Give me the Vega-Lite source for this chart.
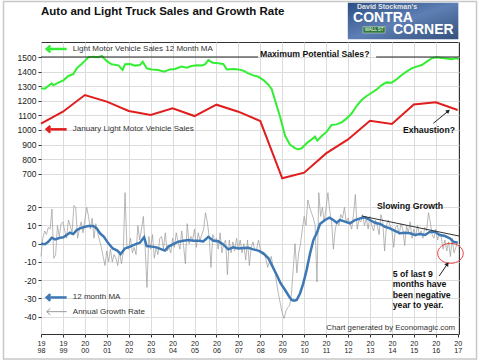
{
"$schema":"https://vega.github.io/schema/vega-lite/v6.json",
"width":418,"height":292,
"autosize":{"type":"none"},
"padding":{"left":41,"top":42,"right":21,"bottom":28},
"background":"white",
"config":{"font":"Liberation Sans","view":{"stroke":"#333","strokeWidth":1},"axis":{"labelOverlap":false,"labelSeparation":-200}},
"datasets":{
"green":[{"year":1998.0,"val":1285},{"year":1998.18,"val":1283},{"year":1998.33,"val":1301},{"year":1998.49,"val":1319},{"year":1998.56,"val":1306},{"year":1998.79,"val":1324},{"year":1999.02,"val":1340},{"year":1999.25,"val":1370},{"year":1999.47,"val":1383},{"year":1999.63,"val":1422},{"year":1999.85,"val":1452},{"year":2000.01,"val":1475},{"year":2000.16,"val":1498},{"year":2000.39,"val":1502},{"year":2000.61,"val":1498},{"year":2000.77,"val":1507},{"year":2000.99,"val":1473},{"year":2001.22,"val":1450},{"year":2001.53,"val":1443},{"year":2001.72,"val":1411},{"year":2001.83,"val":1450},{"year":2002.06,"val":1452},{"year":2002.29,"val":1441},{"year":2002.51,"val":1445},{"year":2002.64,"val":1468},{"year":2002.82,"val":1422},{"year":2003.05,"val":1415},{"year":2003.35,"val":1411},{"year":2003.61,"val":1400},{"year":2003.88,"val":1415},{"year":2004.11,"val":1418},{"year":2004.41,"val":1434},{"year":2004.64,"val":1427},{"year":2004.87,"val":1438},{"year":2005.1,"val":1443},{"year":2005.33,"val":1441},{"year":2005.48,"val":1450},{"year":2005.63,"val":1479},{"year":2005.83,"val":1461},{"year":2006.09,"val":1457},{"year":2006.31,"val":1452},{"year":2006.47,"val":1415},{"year":2006.77,"val":1418},{"year":2007.0,"val":1415},{"year":2007.23,"val":1406},{"year":2007.45,"val":1388},{"year":2007.68,"val":1374},{"year":2007.91,"val":1365},{"year":2008.14,"val":1342},{"year":2008.37,"val":1310},{"year":2008.52,"val":1280},{"year":2008.72,"val":1180},{"year":2008.9,"val":1090},{"year":2009.13,"val":960},{"year":2009.35,"val":900},{"year":2009.58,"val":875},{"year":2009.73,"val":867},{"year":2009.89,"val":874},{"year":2010.11,"val":908},{"year":2010.34,"val":935},{"year":2010.49,"val":954},{"year":2010.6,"val":926},{"year":2010.8,"val":958},{"year":2011.03,"val":988},{"year":2011.25,"val":1034},{"year":2011.48,"val":1038},{"year":2011.71,"val":1052},{"year":2011.94,"val":1079},{"year":2012.17,"val":1114},{"year":2012.39,"val":1164},{"year":2012.62,"val":1205},{"year":2012.85,"val":1233},{"year":2013.08,"val":1255},{"year":2013.31,"val":1278},{"year":2013.53,"val":1308},{"year":2013.76,"val":1326},{"year":2013.99,"val":1324},{"year":2014.22,"val":1347},{"year":2014.45,"val":1377},{"year":2014.67,"val":1400},{"year":2014.9,"val":1422},{"year":2015.13,"val":1434},{"year":2015.36,"val":1445},{"year":2015.59,"val":1468},{"year":2015.81,"val":1491},{"year":2016.04,"val":1498},{"year":2016.27,"val":1493},{"year":2016.5,"val":1489},{"year":2016.73,"val":1484},{"year":2016.88,"val":1491},{"year":2017.04,"val":1486}],
"red":[{"year":1998,"val":1043},{"year":1999,"val":1125},{"year":2000,"val":1239},{"year":2001,"val":1194},{"year":2002,"val":1130},{"year":2003,"val":1102},{"year":2004,"val":1148},{"year":2005,"val":1095},{"year":2006,"val":1173},{"year":2007,"val":1125},{"year":2008,"val":1061},{"year":2009,"val":668},{"year":2010,"val":707},{"year":2011,"val":839},{"year":2012,"val":935},{"year":2013,"val":1063},{"year":2014,"val":1041},{"year":2015,"val":1175},{"year":2016,"val":1189},{"year":2017,"val":1137}],
"blue":[{"year":1998.0,"val":0},{"year":1998.18,"val":-0.3},{"year":1998.33,"val":1},{"year":1998.49,"val":3.3},{"year":1998.64,"val":2.4},{"year":1998.87,"val":3.3},{"year":1999.02,"val":3.5},{"year":1999.17,"val":4.8},{"year":1999.32,"val":6},{"year":1999.47,"val":5.3},{"year":1999.63,"val":7.5},{"year":1999.78,"val":8.4},{"year":2000.01,"val":9.3},{"year":2000.16,"val":9.7},{"year":2000.39,"val":9.7},{"year":2000.54,"val":8.4},{"year":2000.69,"val":5.7},{"year":2000.87,"val":3.8},{"year":2001.07,"val":0.2},{"year":2001.27,"val":-2.6},{"year":2001.48,"val":-3.8},{"year":2001.63,"val":-5.7},{"year":2001.83,"val":-2.6},{"year":2002.06,"val":-1.6},{"year":2002.29,"val":-0.4},{"year":2002.51,"val":0.5},{"year":2002.7,"val":3.5},{"year":2002.82,"val":-1.3},{"year":2003.05,"val":-1.6},{"year":2003.27,"val":-2.0},{"year":2003.5,"val":-3.1},{"year":2003.65,"val":-3.8},{"year":2003.81,"val":-1.6},{"year":2004.03,"val":-0.2},{"year":2004.26,"val":1.1},{"year":2004.49,"val":1.6},{"year":2004.72,"val":2.0},{"year":2004.95,"val":1.6},{"year":2005.17,"val":1.6},{"year":2005.4,"val":1.3},{"year":2005.63,"val":3.8},{"year":2005.86,"val":1.6},{"year":2006.09,"val":1.3},{"year":2006.31,"val":-0.4},{"year":2006.54,"val":-3.1},{"year":2006.77,"val":-2.0},{"year":2007.0,"val":-2.6},{"year":2007.23,"val":-2.4},{"year":2007.45,"val":-2.2},{"year":2007.68,"val":-3.1},{"year":2007.91,"val":-3.8},{"year":2008.14,"val":-5.3},{"year":2008.37,"val":-8.0},{"year":2008.56,"val":-12.6},{"year":2008.75,"val":-17.2},{"year":2008.93,"val":-21.8},{"year":2009.13,"val":-25.4},{"year":2009.32,"val":-29.1},{"year":2009.43,"val":-30.9},{"year":2009.54,"val":-31.3},{"year":2009.66,"val":-30.9},{"year":2009.81,"val":-27.3},{"year":2009.96,"val":-21.8},{"year":2010.11,"val":-14.5},{"year":2010.27,"val":-5.3},{"year":2010.42,"val":2.0},{"year":2010.57,"val":5.7},{"year":2010.72,"val":10.8},{"year":2010.95,"val":13.0},{"year":2011.15,"val":14.3},{"year":2011.33,"val":13.0},{"year":2011.48,"val":11.5},{"year":2011.63,"val":13.0},{"year":2011.86,"val":12.1},{"year":2012.09,"val":11.2},{"year":2012.32,"val":13.0},{"year":2012.55,"val":13.9},{"year":2012.77,"val":14.5},{"year":2013.0,"val":13.0},{"year":2013.23,"val":11.5},{"year":2013.46,"val":10.8},{"year":2013.69,"val":9.3},{"year":2013.91,"val":8.4},{"year":2014.14,"val":7.1},{"year":2014.37,"val":5.7},{"year":2014.6,"val":6.0},{"year":2014.83,"val":5.7},{"year":2015.05,"val":4.8},{"year":2015.28,"val":5.3},{"year":2015.51,"val":4.8},{"year":2015.74,"val":6.6},{"year":2015.97,"val":6.4},{"year":2016.19,"val":4.8},{"year":2016.42,"val":4.2},{"year":2016.65,"val":2.9},{"year":2016.8,"val":1.1},{"year":2017.0,"val":0.5}],
"gray":[
{"year":1998.0,"val":-7},{"year":1998.083,"val":3},{"year":1998.167,"val":7},{"year":1998.25,"val":5},{"year":1998.333,"val":9},{"year":1998.417,"val":8},{"year":1998.5,"val":19},{"year":1998.583,"val":-8},{"year":1998.667,"val":-6},{"year":1998.75,"val":10},{"year":1998.833,"val":4},{"year":1998.917,"val":11},
{"year":1999.0,"val":12},{"year":1999.083,"val":7},{"year":1999.167,"val":3},{"year":1999.25,"val":13},{"year":1999.333,"val":10},{"year":1999.417,"val":6},{"year":1999.5,"val":21},{"year":1999.583,"val":20},{"year":1999.667,"val":3},{"year":1999.75,"val":8},{"year":1999.833,"val":12},{"year":1999.917,"val":6},
{"year":2000.0,"val":13},{"year":2000.083,"val":20},{"year":2000.167,"val":15},{"year":2000.25,"val":8},{"year":2000.333,"val":14},{"year":2000.417,"val":3},{"year":2000.5,"val":11},{"year":2000.583,"val":6},{"year":2000.667,"val":2},{"year":2000.75,"val":-2},{"year":2000.833,"val":-7},{"year":2000.917,"val":-12},
{"year":2001.0,"val":-4},{"year":2001.083,"val":-10},{"year":2001.167,"val":-3},{"year":2001.25,"val":-10},{"year":2001.333,"val":-6},{"year":2001.417,"val":-8},{"year":2001.5,"val":-12},{"year":2001.583,"val":-4},{"year":2001.667,"val":-11},{"year":2001.75,"val":-5},{"year":2001.833,"val":28},{"year":2001.917,"val":-2},
{"year":2002.0,"val":-3},{"year":2002.083,"val":3},{"year":2002.167,"val":-5},{"year":2002.25,"val":-2},{"year":2002.333,"val":-6},{"year":2002.417,"val":10},{"year":2002.5,"val":2},{"year":2002.583,"val":8},{"year":2002.667,"val":15},{"year":2002.75,"val":-2},{"year":2002.833,"val":-24},{"year":2002.917,"val":4},
{"year":2003.0,"val":-3},{"year":2003.083,"val":5},{"year":2003.167,"val":-8},{"year":2003.25,"val":-2},{"year":2003.333,"val":-6},{"year":2003.417,"val":3},{"year":2003.5,"val":4},{"year":2003.583,"val":-3},{"year":2003.667,"val":6},{"year":2003.75,"val":-4},{"year":2003.833,"val":-2},{"year":2003.917,"val":-5},
{"year":2004.0,"val":3},{"year":2004.083,"val":-2},{"year":2004.167,"val":6},{"year":2004.25,"val":1},{"year":2004.333,"val":-3},{"year":2004.417,"val":7},{"year":2004.5,"val":-1},{"year":2004.583,"val":-11},{"year":2004.667,"val":11},{"year":2004.75,"val":0},{"year":2004.833,"val":4},{"year":2004.917,"val":2},
{"year":2005.0,"val":8},{"year":2005.083,"val":-2},{"year":2005.167,"val":6},{"year":2005.25,"val":2},{"year":2005.333,"val":5},{"year":2005.417,"val":8},{"year":2005.5,"val":17},{"year":2005.583,"val":12},{"year":2005.667,"val":4},{"year":2005.75,"val":-13},{"year":2005.833,"val":5},{"year":2005.917,"val":2},
{"year":2006.0,"val":3},{"year":2006.083,"val":-3},{"year":2006.167,"val":6},{"year":2006.25,"val":-5},{"year":2006.333,"val":0},{"year":2006.417,"val":2},{"year":2006.5,"val":-17},{"year":2006.583,"val":2},{"year":2006.667,"val":-5},{"year":2006.75,"val":1},{"year":2006.833,"val":-4},{"year":2006.917,"val":3},
{"year":2007.0,"val":-3},{"year":2007.083,"val":2},{"year":2007.167,"val":-5},{"year":2007.25,"val":0},{"year":2007.333,"val":-9},{"year":2007.417,"val":2},{"year":2007.5,"val":-12},{"year":2007.583,"val":-2},{"year":2007.667,"val":1},{"year":2007.75,"val":-4},{"year":2007.833,"val":-3},{"year":2007.917,"val":2},
{"year":2008.0,"val":-3},{"year":2008.083,"val":-6},{"year":2008.167,"val":-5},{"year":2008.25,"val":-8},{"year":2008.333,"val":-13},{"year":2008.417,"val":-10},{"year":2008.5,"val":-7},{"year":2008.583,"val":-13},{"year":2008.667,"val":-15},{"year":2008.75,"val":-22},{"year":2008.833,"val":-28},{"year":2008.917,"val":-33},
{"year":2009.0,"val":-38},{"year":2009.083,"val":-41},{"year":2009.167,"val":-37},{"year":2009.25,"val":-35},{"year":2009.333,"val":-34},{"year":2009.417,"val":-28},{"year":2009.5,"val":-14},{"year":2009.583,"val":0},{"year":2009.667,"val":-16},{"year":2009.75,"val":-5},{"year":2009.833,"val":0},{"year":2009.917,"val":8},
{"year":2010.0,"val":15},{"year":2010.083,"val":10},{"year":2010.167,"val":24},{"year":2010.25,"val":20},{"year":2010.333,"val":17},{"year":2010.417,"val":14},{"year":2010.5,"val":10},{"year":2010.583,"val":-21},{"year":2010.667,"val":28},{"year":2010.75,"val":15},{"year":2010.833,"val":20},{"year":2010.917,"val":12},
{"year":2011.0,"val":20},{"year":2011.083,"val":28},{"year":2011.167,"val":18},{"year":2011.25,"val":12},{"year":2011.333,"val":-3},{"year":2011.417,"val":8},{"year":2011.5,"val":12},{"year":2011.583,"val":10},{"year":2011.667,"val":16},{"year":2011.75,"val":14},{"year":2011.833,"val":20},{"year":2011.917,"val":12},
{"year":2012.0,"val":14},{"year":2012.083,"val":11},{"year":2012.167,"val":8},{"year":2012.25,"val":16},{"year":2012.333,"val":27},{"year":2012.417,"val":8},{"year":2012.5,"val":13},{"year":2012.583,"val":12},{"year":2012.667,"val":16},{"year":2012.75,"val":10},{"year":2012.833,"val":14},{"year":2012.917,"val":8},
{"year":2013.0,"val":15},{"year":2013.083,"val":10},{"year":2013.167,"val":7},{"year":2013.25,"val":13},{"year":2013.333,"val":10},{"year":2013.417,"val":5},{"year":2013.5,"val":16},{"year":2013.583,"val":12},{"year":2013.667,"val":-4},{"year":2013.75,"val":10},{"year":2013.833,"val":13},{"year":2013.917,"val":10},
{"year":2014.0,"val":7},{"year":2014.083,"val":-2},{"year":2014.167,"val":9},{"year":2014.25,"val":10},{"year":2014.333,"val":5},{"year":2014.417,"val":11},{"year":2014.5,"val":8},{"year":2014.583,"val":-1},{"year":2014.667,"val":10},{"year":2014.75,"val":6},{"year":2014.833,"val":12},{"year":2014.917,"val":3},
{"year":2015.0,"val":8},{"year":2015.083,"val":4},{"year":2015.167,"val":10},{"year":2015.25,"val":5},{"year":2015.333,"val":7},{"year":2015.417,"val":3},{"year":2015.5,"val":9},{"year":2015.583,"val":7},{"year":2015.667,"val":17},{"year":2015.75,"val":12},{"year":2015.833,"val":5},{"year":2015.917,"val":3},
{"year":2016.0,"val":8},{"year":2016.083,"val":2},{"year":2016.167,"val":5},{"year":2016.25,"val":4},{"year":2016.333,"val":-3},{"year":2016.417,"val":2},{"year":2016.5,"val":-4},{"year":2016.583,"val":1},{"year":2016.667,"val":-7},{"year":2016.75,"val":3},{"year":2016.833,"val":-5},{"year":2016.917,"val":-2},
{"year":2017.0,"val":1}]
},
"layer":[
{"layer":[
 {"data":{"name":"green"},"mark":{"type":"line","color":"#33ee33","strokeWidth":2},
  "encoding":{
   "x":{"field":"year","type":"quantitative","scale":{"domain":[1998,2017.06],"nice":false,"zero":false},
        "axis":{"values":[1998,1999,2000,2001,2002,2003,2004,2005,2006,2007,2008,2009,2010,2011,2012,2013,2014,2015,2016,2017],"tickCount":20,
                "labelExpr":"[substring(toString(datum.value),0,2), substring(toString(datum.value),2,4)]",
                "title":null,"grid":true,"gridColor":"#dcdcdc","domain":false,"tickSize":3,"tickColor":"#333",
                "labelFontSize":7.2,"labelLineHeight":7.6,"labelColor":"#222","labelPadding":2,"labelFlush":false,"labelOverlap":false,"labelSeparation":-200,"labelBound":false}},
   "y":{"field":"val","type":"quantitative","scale":{"domain":[-399.5,1602.9],"nice":false,"zero":false},
        "axis":{"orient":"left","values":[700,800,900,1000,1100,1200,1300,1400,1500],"tickCount":9,"labelExpr":"toString(datum.value)",
                "title":null,"grid":true,"gridColor":"#dcdcdc","domain":false,"tickSize":3,"tickColor":"#333",
                "labelFontSize":8.5,"labelColor":"#222","labelPadding":2,"labelOverlap":false,"labelSeparation":-200,"labelFlush":false}}}},
 {"data":{"name":"red"},"mark":{"type":"line","color":"#e01e1e","strokeWidth":2},
  "encoding":{"x":{"field":"year","type":"quantitative"},"y":{"field":"val","type":"quantitative"}}},
 {"data":{"values":[{"year":1998,"val":1500,"year2":2007.9},{"year":2013.28,"val":1500,"year2":2017.06}]},
  "mark":{"type":"rule","color":"#222","strokeWidth":1},
  "encoding":{"x":{"field":"year","type":"quantitative"},"x2":{"field":"year2"},"y":{"field":"val","type":"quantitative"}}},
 {"data":{"values":[{"year":1996.29,"val":1880.6,"year2":2017.86,"val2":-570.9}]},
  "mark":{"type":"rect","filled":false,"color":"#c8c8c8","strokeWidth":1.5},
  "encoding":{"x":{"field":"year","type":"quantitative"},"x2":{"field":"year2"},"y":{"field":"val","type":"quantitative"},"y2":{"field":"val2"}}},
 {"data":{"values":[{"year":2011.99,"val":1872.4,"year2":2017.03,"val2":1621.4}]},
  "mark":{"type":"rect","fill":{"gradient":"linear","x1":0,"y1":0,"x2":1,"y2":1,"stops":[{"offset":0,"color":"#2c4d85"},{"offset":0.5,"color":"#5d7fb3"},{"offset":1,"color":"#34507e"}]}},
  "encoding":{"x":{"field":"year","type":"quantitative"},"x2":{"field":"year2"},"y":{"field":"val","type":"quantitative"},"y2":{"field":"val2"}}},
 {"data":{"values":[{"year":2012.68,"val":1709,"year2":2013.69,"val2":1664.6}]},
  "mark":{"type":"rect","fill":"#2f7a3a","stroke":"#ddd","strokeWidth":0.5},
  "encoding":{"x":{"field":"year","type":"quantitative"},"x2":{"field":"year2"},"y":{"field":"val","type":"quantitative"},"y2":{"field":"val2"}}},
 {"data":{"values":[{"year":2013.78,"val":1844.9,"label":"David Stockman's"}]},
  "mark":{"type":"text","align":"center","baseline":"middle","fontSize":7,"fontWeight":"bold","color":"#e6e6e6"},
  "encoding":{"x":{"field":"year","type":"quantitative"},"y":{"field":"val","type":"quantitative"},"text":{"field":"label"}}},
 {"data":{"values":[{"year":2012.23,"val":1765.4,"label":"CONTRA"},{"year":2014.05,"val":1685.1,"label":"CORNER"}]},
  "mark":{"type":"text","align":"left","baseline":"middle","fontSize":14,"fontWeight":"bold","color":"white"},
  "encoding":{"x":{"field":"year","type":"quantitative"},"y":{"field":"val","type":"quantitative"},"text":{"field":"label"}}},
 {"data":{"values":[{"year":2013.19,"val":1687,"label":"WALL ST"}]},
  "mark":{"type":"text","align":"center","baseline":"middle","fontSize":4.5,"color":"white"},
  "encoding":{"x":{"field":"year","type":"quantitative"},"y":{"field":"val","type":"quantitative"},"text":{"field":"label"}}},
 {"data":{"values":[{"year":1998.0,"val":1808.6,"label":"Auto and Light Truck Sales and Growth Rate"}]},
  "mark":{"type":"text","align":"left","baseline":"middle","fontSize":11.5,"fontWeight":"bold","color":"#111"},
  "encoding":{"x":{"field":"year","type":"quantitative"},"y":{"field":"val","type":"quantitative"},"text":{"field":"label"}}},
 {"data":{"values":[{"year":1999.45,"val":1555,"label":"Light Motor Vehicle Sales 12 Month MA"},{"year":1999.45,"val":1004,"label":"January Light Motor Vehicle Sales"}]},
  "mark":{"type":"text","align":"left","baseline":"middle","fontSize":8,"color":"#333"},
  "encoding":{"x":{"field":"year","type":"quantitative"},"y":{"field":"val","type":"quantitative"},"text":{"field":"label"}}},
 {"data":{"values":[{"year":2010.48,"val":1518.5,"label":"Maximum Potential Sales?"},{"year":2015.69,"val":1001,"label":"Exhaustion?"}]},
  "mark":{"type":"text","align":"center","baseline":"middle","fontSize":8.7,"fontWeight":"bold","color":"#111"},
  "encoding":{"x":{"field":"year","type":"quantitative"},"y":{"field":"val","type":"quantitative"},"text":{"field":"label"}}},
 {"data":{"values":[{"year":1998.26,"val":1555,"year2":1999.17}]},
  "mark":{"type":"rule","color":"#33ee33","strokeWidth":2.5},
  "encoding":{"x":{"field":"year","type":"quantitative"},"x2":{"field":"year2"},"y":{"field":"val","type":"quantitative"}}},
 {"data":{"values":[{"year":1998.26,"val":1555}]},
  "mark":{"type":"point","shape":"M1.1,-1L0,0L1.1,1","size":44,"filled":false,"color":"#33ee33","strokeWidth":2.5,"opacity":1},
  "encoding":{"x":{"field":"year","type":"quantitative"},"y":{"field":"val","type":"quantitative"}}},
 {"data":{"values":[{"year":1998.26,"val":1004,"year2":1999.17}]},
  "mark":{"type":"rule","color":"#e01e1e","strokeWidth":2.5},
  "encoding":{"x":{"field":"year","type":"quantitative"},"x2":{"field":"year2"},"y":{"field":"val","type":"quantitative"}}},
 {"data":{"values":[{"year":1998.26,"val":1004}]},
  "mark":{"type":"point","shape":"M1.1,-1L0,0L1.1,1","size":44,"filled":false,"color":"#e01e1e","strokeWidth":2.5,"opacity":1},
  "encoding":{"x":{"field":"year","type":"quantitative"},"y":{"field":"val","type":"quantitative"}}},
 {"data":{"values":[{"year":2015.89,"val":1045.4,"year2":2016.57,"val2":1129.7}]},
  "mark":{"type":"rule","color":"#222","strokeWidth":1},
  "encoding":{"x":{"field":"year","type":"quantitative"},"x2":{"field":"year2"},"y":{"field":"val","type":"quantitative"},"y2":{"field":"val2"}}},
 {"data":{"values":[{"year":2016.57,"val":1129.7}]},
  "mark":{"type":"point","shape":"triangle-up","size":22,"filled":true,"color":"#222","angle":51,"opacity":1},
  "encoding":{"x":{"field":"year","type":"quantitative"},"y":{"field":"val","type":"quantitative"}}}
]},
{"layer":[
 {"data":{"name":"gray"},"mark":{"type":"line","color":"#9a9a9a","strokeWidth":0.7},
  "encoding":{"x":{"field":"year","type":"quantitative"},
   "y":{"field":"val","type":"quantitative","scale":{"domain":[-49.56,110.7],"nice":false,"zero":false},
        "axis":{"orient":"left","values":[-40,-30,-20,-10,0,10,20],"tickCount":7,"labelExpr":"toString(datum.value)",
                "title":null,"grid":true,"gridColor":"#dcdcdc","domain":false,"tickSize":3,"tickColor":"#333",
                "labelFontSize":8.5,"labelColor":"#222","labelPadding":2,"labelOverlap":false,"labelSeparation":-200,"labelFlush":false}}}},
 {"data":{"name":"blue"},"mark":{"type":"line","color":"#3d78b5","strokeWidth":2.5},
  "encoding":{"x":{"field":"year","type":"quantitative"},"y":{"field":"val","type":"quantitative"}}},
 {"data":{"values":[{"year":2012.62,"val":15.2,"year2":2017.07,"val2":4.2}]},
  "mark":{"type":"rule","color":"#333","strokeWidth":1},
  "encoding":{"x":{"field":"year","type":"quantitative"},"x2":{"field":"year2"},"y":{"field":"val","type":"quantitative"},"y2":{"field":"val2"}}},
 {"data":{"values":[{"year":2016.67,"val":-5.3}]},
  "mark":{"type":"point","shape":"M-1.28,0A1.28,1,0,1,0,1.28,0A1.28,1,0,1,0,-1.28,0Z","size":400,"filled":false,"color":"#f04040","strokeWidth":1,"opacity":1},
  "encoding":{"x":{"field":"year","type":"quantitative"},"y":{"field":"val","type":"quantitative"}}},
 {"data":{"values":[{"year":1998.26,"val":-29.5,"year2":1999.17}]},
  "mark":{"type":"rule","color":"#3d78b5","strokeWidth":2.5},
  "encoding":{"x":{"field":"year","type":"quantitative"},"x2":{"field":"year2"},"y":{"field":"val","type":"quantitative"}}},
 {"data":{"values":[{"year":1998.26,"val":-29.5}]},
  "mark":{"type":"point","shape":"M1.1,-1L0,0L1.1,1","size":44,"filled":false,"color":"#3d78b5","strokeWidth":2.5,"opacity":1},
  "encoding":{"x":{"field":"year","type":"quantitative"},"y":{"field":"val","type":"quantitative"}}},
 {"data":{"values":[{"year":1998.26,"val":-37.3,"year2":1999.17}]},
  "mark":{"type":"rule","color":"#999","strokeWidth":1},
  "encoding":{"x":{"field":"year","type":"quantitative"},"x2":{"field":"year2"},"y":{"field":"val","type":"quantitative"}}},
 {"data":{"values":[{"year":1998.26,"val":-37.3}]},
  "mark":{"type":"point","shape":"M1.1,-1L0,0L1.1,1","size":44,"filled":false,"color":"#999","strokeWidth":1,"opacity":1},
  "encoding":{"x":{"field":"year","type":"quantitative"},"y":{"field":"val","type":"quantitative"}}},
 {"data":{"values":[{"year":1999.45,"val":-29.5,"label":"12 month MA"},{"year":1999.45,"val":-37.3,"label":"Annual Growth Rate"}]},
  "mark":{"type":"text","align":"left","baseline":"middle","fontSize":8,"color":"#333"},
  "encoding":{"x":{"field":"year","type":"quantitative"},"y":{"field":"val","type":"quantitative"},"text":{"field":"label"}}},
 {"data":{"values":[{"year":2016.88,"val":-46.4,"label":"Chart generated by Economagic.com"}]},
  "mark":{"type":"text","align":"right","baseline":"middle","fontSize":7.8,"color":"#333"},
  "encoding":{"x":{"field":"year","type":"quantitative"},"y":{"field":"val","type":"quantitative"},"text":{"field":"label"}}},
 {"data":{"values":[{"year":2014.83,"val":20.9,"label":"Slowing Growth"}]},
  "mark":{"type":"text","align":"center","baseline":"middle","fontSize":8.7,"fontWeight":"bold","color":"#111"},
  "encoding":{"x":{"field":"year","type":"quantitative"},"y":{"field":"val","type":"quantitative"},"text":{"field":"label"}}},
 {"data":{"values":[{"year":2014.04,"val":-16.6,"label":"5 of last 9"},{"year":2014.04,"val":-22.3,"label":"months have"},{"year":2014.04,"val":-28.0,"label":"been negative"},{"year":2014.04,"val":-33.6,"label":"year to year."}]},
  "mark":{"type":"text","align":"left","baseline":"middle","fontSize":8.7,"fontWeight":"bold","color":"#111"},
  "encoding":{"x":{"field":"year","type":"quantitative"},"y":{"field":"val","type":"quantitative"},"text":{"field":"label"}}},
 {"data":{"values":[{"year":2016.16,"val":-17.7,"year2":2016.53,"val2":-11.1}]},
  "mark":{"type":"rule","color":"#222","strokeWidth":1},
  "encoding":{"x":{"field":"year","type":"quantitative"},"x2":{"field":"year2"},"y":{"field":"val","type":"quantitative"},"y2":{"field":"val2"}}},
 {"data":{"values":[{"year":2016.53,"val":-11.1}]},
  "mark":{"type":"point","shape":"triangle-up","size":22,"filled":true,"color":"#222","angle":34,"opacity":1},
  "encoding":{"x":{"field":"year","type":"quantitative"},"y":{"field":"val","type":"quantitative"}}}
]}
],
"resolve":{"scale":{"y":"independent"},"axis":{"y":"independent"}}
}
